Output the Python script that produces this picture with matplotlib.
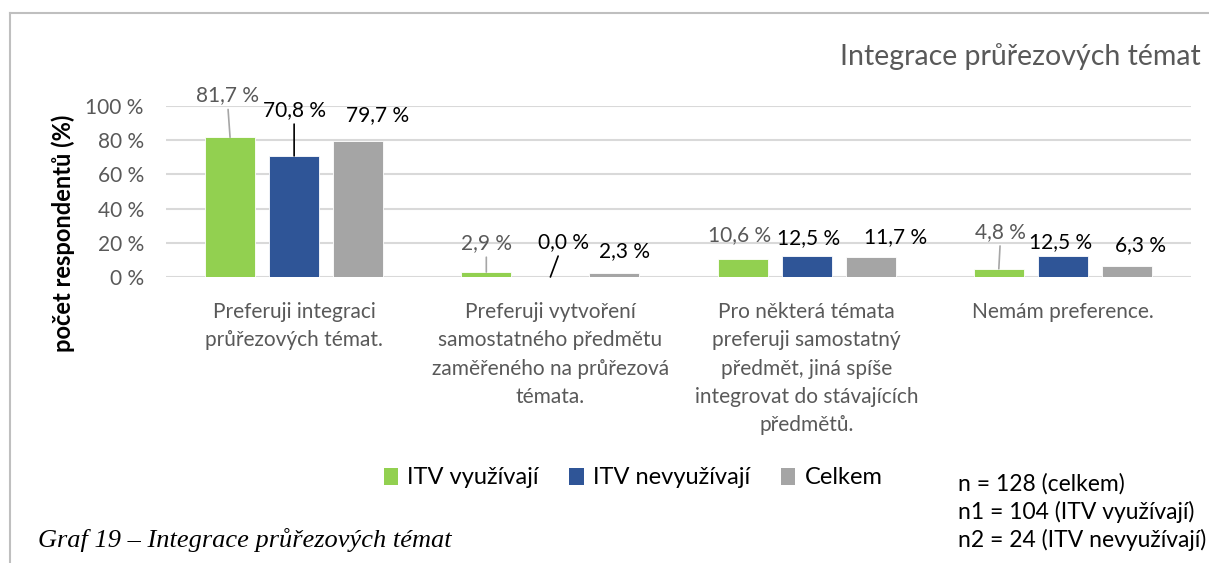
import numpy as np
import matplotlib
matplotlib.use("Agg")
import matplotlib.pyplot as plt
from matplotlib.patches import Patch
from matplotlib.lines import Line2D

plt.rcParams['font.family'] = ['Lato', 'DejaVu Sans']

# data
categories = [
    "Preferuji integraci\nprůřezových témat.",
    "Preferuji vytvoření\nsamostatného předmětu\nzaměřeného na průřezová\ntémata.",
    "Pro některá témata\npreferuji samostatný\npředmět, jiná spíše\nintegrovat do stávajících\npředmětů.",
    "Nemám preference.",
]
series_names = ["ITV využívají", "ITV nevyužívají", "Celkem"]
itv_vyuzivaji = [81.7, 2.9, 10.6, 4.8]
itv_nevyuzivaji = [70.8, 0.0, 12.5, 12.5]
celkem = [79.7, 2.3, 11.7, 6.3]
yticks = [0, 20, 40, 60, 80, 100]
n_notes = ["n = 128 (celkem)", "n1 = 104 (ITV využívají)", "n2 = 24 (ITV nevyužívají)"]

series = [itv_vyuzivaji, itv_nevyuzivaji, celkem]
colors = ['#92d050', '#2f5597', '#a5a5a5']
label_colors = ['#595959', 'black', 'black']
leader_colors = ['#a6a6a6', 'black', 'black']

# manual label placement (pixels: dx, dy above bar top), like in the original
label_offsets = [
    [(-3, 42), (0, 46), (19, 26)],
    [(0, 29), (13, 35), (10, 22)],
    [(-3, 24), (2, 18), (25, 20)],
    [(2, 37), (-2, 14), (14, 21)],
]
leaders = [
    [True, True, False],
    [True, True, False],
    [False, False, False],
    [True, False, False],
]

W, H = 1209, 563
fig = plt.figure(figsize=(W / 100, H / 100), dpi=100)
ax = fig.add_axes([166 / W, 1 - 277 / H, 1025 / W, 171 / H])

x = np.arange(len(categories))
offsets = [-0.25, 0, 0.25]
width = 0.195

for i, vals in enumerate(series):
    ax.bar(x + offsets[i], vals, width, color=colors[i], edgecolor='white',
           linewidth=0.6, zorder=3)
    for j, v in enumerate(vals):
        dx, dy = label_offsets[j][i]
        txt = f"{v:.1f} %".replace('.', ',')
        kw = {}
        if leaders[j][i]:
            kw['arrowprops'] = dict(arrowstyle='-', color=leader_colors[i], lw=1.2,
                                    shrinkA=1, shrinkB=0)
        ax.annotate(txt, xy=(x[j] + offsets[i], v), xytext=(dx, dy),
                    textcoords='offset pixels', ha='center', va='center',
                    fontsize=15, color=label_colors[i], zorder=5, **kw)

ax.set_xlim(-0.5, 3.5)
ax.set_ylim(0, 100)
ax.set_yticks(yticks)
ax.set_yticklabels([f"{t} %" for t in yticks], fontsize=15, color='#595959')
ax.set_xticks(x)
ax.set_xticklabels(categories, fontsize=15, color='#595959', linespacing=1.52, va='top')
ax.tick_params(axis='both', length=0)
ax.tick_params(axis='x', pad=18)
ax.tick_params(axis='y', pad=16)
for s in ax.spines.values():
    s.set_visible(False)
ax.yaxis.grid(True, color='#d9d9d9', linewidth=1.5, zorder=0)
ax.set_axisbelow(True)

ax.set_ylabel("počet respondentů (%)", fontsize=17, fontweight='bold')
ax.yaxis.set_label_coords(-0.089, 0.257)

# title, right at the figure edge as in the original
fig.text(840 / W, 1 - 57 / H, "Integrace průřezových témat", fontsize=20.5,
         color='#595959', ha='left', va='center')

# legend
handles = [Patch(facecolor=c, edgecolor='none') for c in colors]
fig.legend(handles, series_names, loc='center', bbox_to_anchor=(633 / W, 1 - 478 / H),
           ncol=3, frameon=False, fontsize=17, handlelength=0.6, handleheight=0.7,
           handletextpad=0.4, columnspacing=1.3)

for k, t in enumerate(n_notes):
    fig.text(958 / W, 1 - (484 + 28 * k) / H, t, fontsize=16.5, ha='left', va='center')

fig.text(38 / W, 1 - 540 / H, "Graf 19 – Integrace průřezových témat",
         family='Liberation Serif', style='italic', fontsize=19, ha='left', va='center')

# outer frame
fig.add_artist(Line2D([10 / W, 1], [1 - 13 / H, 1 - 13 / H], color='#bfbfbf', lw=1.5))
fig.add_artist(Line2D([10 / W, 10 / W], [0, 1 - 13 / H], color='#bfbfbf', lw=1.5))

fig.savefig("out.png", dpi=100)
